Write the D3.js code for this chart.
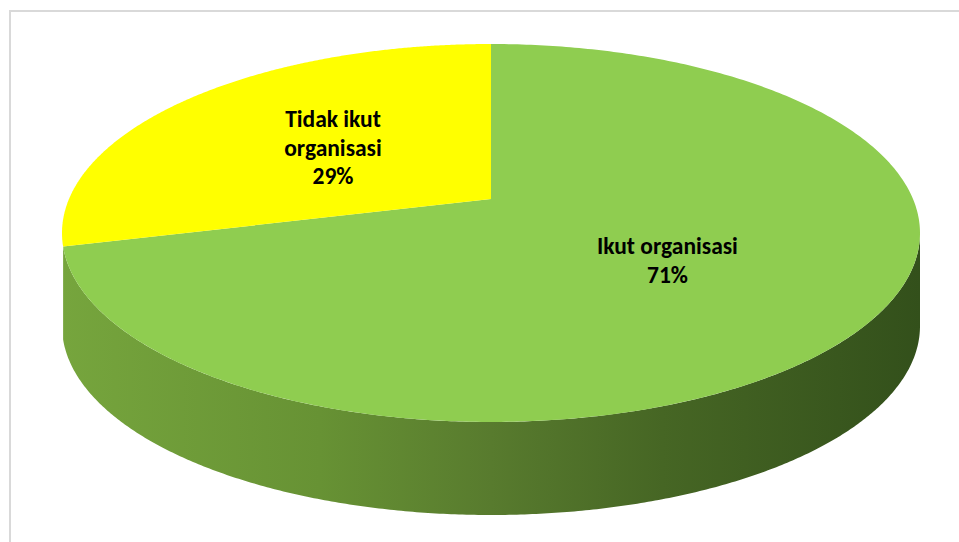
<!DOCTYPE html>
<html>
<head>
<meta charset="utf-8">
<script src="https://cdn.jsdelivr.net/npm/d3@7"></script>
<style>
  html, body { margin: 0; padding: 0; background: #ffffff; }
  svg { display: block; }
</style>
</head>
<body>
<svg id="chart" width="959" height="542"></svg>
<script>
// Data
const categories = ["Ikut organisasi", "Tidak ikut organisasi"];
const values = [71, 29];
const labelNames = [["Ikut organisasi"], ["Tidak ikut", "organisasi"]];

// Styling
const topColors = ["#8fcd50", "#ffff00"];
const sideStops = [
  [["0%", "#76a53d"], ["30%", "#679234"], ["50%", "#587b2e"], ["70%", "#466624"], ["100%", "#33501b"]],
  [["0%", "#c9c900"], ["100%", "#8a8a00"]]
];

const W = 959, H = 542;
const cx = 491, cy = 233, rx = 429, ry = 189, depth = 93;
const beta = 0.18; // perspective tilt of the pie disc

const svg = d3.select("#chart");

// chart area frame
svg.append("rect")
  .attr("x", 10).attr("y", 11)
  .attr("width", W + 20).attr("height", H + 20)
  .attr("fill", "#ffffff")
  .attr("stroke", "#d9d9d9")
  .attr("stroke-width", 2);

const sx = d3.scaleLinear().domain([-1, 1]).range([cx - rx, cx + rx]);
const sy = d3.scaleLinear().domain([-1, 1]).range([cy - ry, cy + ry]);

// map a point of the flat disc (angle clockwise from top, radius 0..1) to screen
function proj(a, r) {
  const u = r * Math.sin(a), v = -r * Math.cos(a);
  const den = 1 - beta * v;
  const X = u * Math.sqrt(1 - beta * beta) / den;
  const Y = (v - beta) / den;
  return [sx(X), sy(Y)];
}

const pie = d3.pie().sort(null).value(d => d.value);
const arcs = pie(categories.map((c, i) => ({ name: c, value: values[i], i })));
const total = d3.sum(values);

const defs = svg.append("defs");
sideStops.forEach((stops, i) => {
  const g = defs.append("linearGradient")
    .attr("id", "side" + i)
    .attr("gradientUnits", "userSpaceOnUse")
    .attr("x1", cx - rx).attr("x2", cx + rx)
    .attr("y1", 0).attr("y2", 0);
  stops.forEach(s => g.append("stop").attr("offset", s[0]).attr("stop-color", s[1]));
});

const line = d3.line();
const N = 360;

// side walls: only the front part of each slice rim is visible
const frontMin = Math.acos(-beta), frontMax = 2 * Math.PI - Math.acos(-beta);
arcs.forEach(d => {
  const a0 = Math.max(d.startAngle, frontMin), a1 = Math.min(d.endAngle, frontMax);
  if (a1 <= a0) return;
  const topPts = d3.range(N + 1).map(k => proj(a0 + (a1 - a0) * k / N, 1));
  const span = d3.extent(topPts, p => p[0]);
  if (span[1] - span[0] < 4) return; // edge-on sliver, not drawn
  const botPts = topPts.slice().reverse().map(p => [p[0], p[1] + depth]);
  svg.append("path")
    .attr("d", line(topPts.concat(botPts)) + "Z")
    .attr("fill", `url(#side${d.data.i})`);
});

// top faces
arcs.forEach(d => {
  const pts = [proj(0, 0)].concat(
    d3.range(N + 1).map(k => proj(d.startAngle + (d.endAngle - d.startAngle) * k / N, 1)));
  svg.append("path")
    .attr("d", line(pts) + "Z")
    .attr("fill", topColors[d.data.i]);
});

// data labels
const lineH = 28.5;
arcs.forEach(d => {
  const mid = (d.startAngle + d.endAngle) / 2;
  const [lx, ly] = proj(mid, 0.5);
  const lines = labelNames[d.data.i].concat([Math.round(d.data.value / total * 100) + "%"]);
  const t = svg.append("text")
    .attr("x", lx)
    .attr("text-anchor", "middle")
    .attr("font-family", "Carlito, Roboto, 'Liberation Sans', sans-serif")
    .attr("font-weight", "bold")
    .attr("font-size", 23.5)
    .attr("fill", "#000000");
  lines.forEach((s, k) => {
    t.append("tspan")
      .attr("x", lx)
      .attr("y", ly - (lines.length - 1) * lineH / 2 + 10 + k * lineH)
      .text(s);
  });
});
</script>
</body>
</html>
